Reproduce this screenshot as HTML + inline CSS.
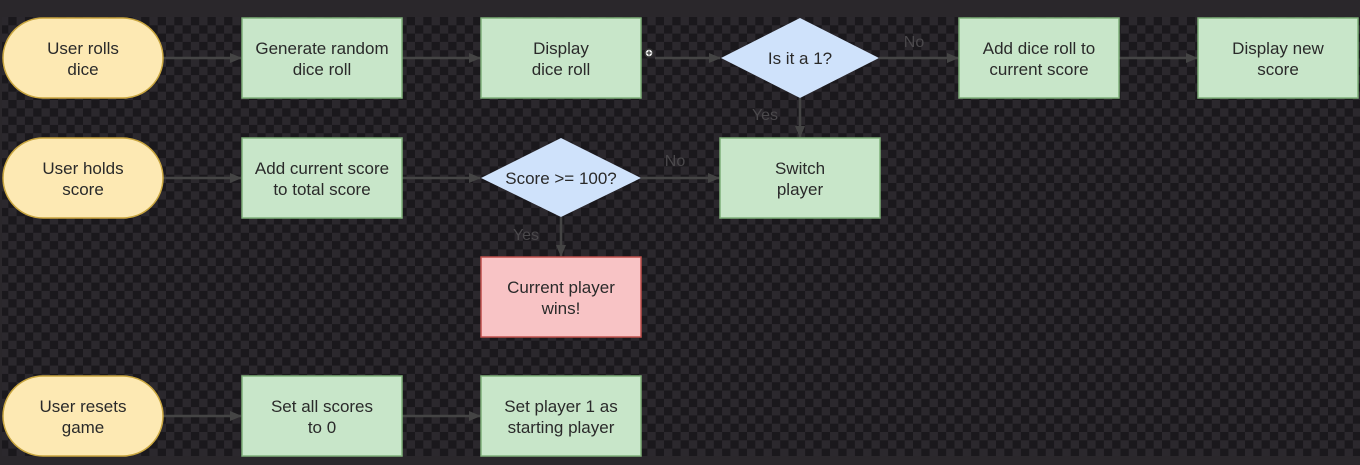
<!DOCTYPE html>
<html><head><meta charset="utf-8"><style>
html,body{margin:0;padding:0;background:#2a272b;}
svg{display:block}
text{font-family:"Liberation Sans",sans-serif;font-size:17px;fill:#2a2a2a;text-anchor:middle}
.l{fill:#4a484b;font-size:16px}
</style></head><body>
<svg width="1360" height="465" viewBox="0 0 1360 465" xmlns="http://www.w3.org/2000/svg">
<defs>
<pattern id="ck" x="0" y="17" width="16.6" height="16.6" patternUnits="userSpaceOnUse">
<rect width="16.6" height="16.6" fill="#1a181c"/>
<rect width="8.3" height="8.3" fill="#2b282d"/>
<rect x="8.3" y="8.3" width="8.3" height="8.3" fill="#2b282d"/>
</pattern>
<marker id="a" markerWidth="12" markerHeight="12" refX="11" refY="6" orient="auto" markerUnits="userSpaceOnUse">
<path d="M0,1 L12,6 L0,11 Z" fill="#444"/>
</marker>
</defs>
<rect width="1360" height="465" fill="#2a272b"/>
<rect x="2" y="17" width="1358" height="439" fill="url(#ck)"/>
<g stroke="#444" stroke-width="2.5" fill="none" marker-end="url(#a)">
<line x1="163" y1="58" x2="241" y2="58"/>
<line x1="402" y1="58" x2="480" y2="58"/>
<line x1="655" y1="58" x2="720" y2="58"/>
<line x1="879" y1="58" x2="958" y2="58"/>
<line x1="1119" y1="58" x2="1197" y2="58"/>
<line x1="800" y1="98" x2="800" y2="137"/>
<line x1="163" y1="178" x2="241" y2="178"/>
<line x1="402" y1="178" x2="480" y2="178"/>
<line x1="641" y1="178" x2="719" y2="178"/>
<line x1="561" y1="217" x2="561" y2="256"/>
<line x1="163" y1="416" x2="241" y2="416"/>
<line x1="402" y1="416" x2="480" y2="416"/>
</g>
<circle cx="649" cy="53" r="4" fill="#fff" stroke="#333" stroke-width="1.5"/>
<line x1="646.5" y1="53" x2="651.5" y2="53" stroke="#333" stroke-width="1.2"/>
<line x1="649" y1="50.5" x2="649" y2="55.5" stroke="#333" stroke-width="1.2"/>
<g stroke="#c9a640" stroke-width="1.5" fill="#fde9b3">
<rect x="3" y="18" width="160" height="80" rx="40"/>
<rect x="3" y="138" width="160" height="80" rx="40"/>
<rect x="3" y="376" width="160" height="80" rx="40"/>
</g>
<g stroke="#7fb17a" stroke-width="1.5" fill="#c8e6c9">
<rect x="242" y="18" width="160" height="80"/>
<rect x="481" y="18" width="160" height="80"/>
<rect x="959" y="18" width="160" height="80"/>
<rect x="1198" y="18" width="160" height="80"/>
<rect x="242" y="138" width="160" height="80"/>
<rect x="720" y="138" width="160" height="80"/>
<rect x="242" y="376" width="160" height="80"/>
<rect x="481" y="376" width="160" height="80"/>
</g>
<rect x="481" y="257" width="160" height="80" fill="#f8c3c5" stroke="#c0504d" stroke-width="1.5"/>
<g fill="#cfe2fb">
<polygon points="800,18 879,58 800,98 721,58"/>
<polygon points="561,138 641,178 561,217 481,178"/>
</g>
<text x="83" y="54">User rolls</text><text x="83" y="75">dice</text>
<text x="322" y="54">Generate random</text><text x="322" y="75">dice roll</text>
<text x="561" y="54">Display</text><text x="561" y="75">dice roll</text>
<text x="800" y="64">Is it a 1?</text>
<text x="1039" y="54">Add dice roll to</text><text x="1039" y="75">current score</text>
<text x="1278" y="54">Display new</text><text x="1278" y="75">score</text>
<text x="83" y="174">User holds</text><text x="83" y="195">score</text>
<text x="322" y="174">Add current score</text><text x="322" y="195">to total score</text>
<text x="561" y="184">Score &gt;= 100?</text>
<text x="800" y="174">Switch</text><text x="800" y="195">player</text>
<text x="561" y="293">Current player</text><text x="561" y="314">wins!</text>
<text x="83" y="412">User resets</text><text x="83" y="433">game</text>
<text x="322" y="412">Set all scores</text><text x="322" y="433">to 0</text>
<text x="561" y="412">Set player 1 as</text><text x="561" y="433">starting player</text>
<text class="l" x="914" y="47">No</text>
<text class="l" x="765" y="120">Yes</text>
<text class="l" x="675" y="166">No</text>
<text class="l" x="526" y="240">Yes</text>
</svg>
</body></html>
